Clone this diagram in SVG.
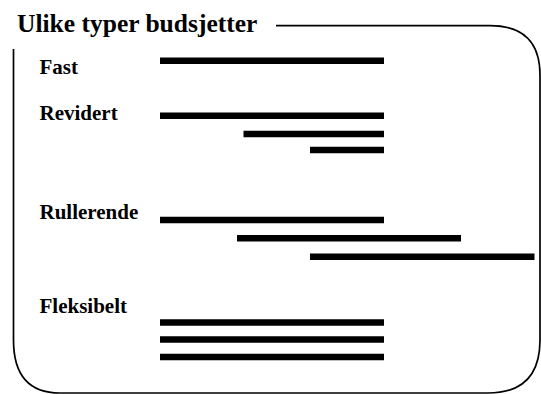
<svg xmlns="http://www.w3.org/2000/svg" width="541" height="394" viewBox="0 0 541 394">
  <style>
    .title { font-family: "Liberation Serif", "Times New Roman", serif; font-weight: bold; font-size: 25.5px; fill: #000; }
    .label { font-family: "Liberation Serif", "Times New Roman", serif; font-weight: bold; font-size: 21px; fill: #000; }
    .frame { fill: none; stroke: #000; stroke-width: 1.7; }
    .bar { stroke: #000; stroke-width: 6.5; stroke-linecap: butt; }
  </style>
  <rect width="541" height="394" fill="#fff"/>

  <!-- rounded frame opened at the top-left for the heading -->
  <g id="frame">
    <path class="frame" d="M13.5,49 V340 Q13.5,393 60,393 H488 Q540,393 540,340 V75 Q540,25.7 490,25.7 H276"/>
    <text class="title" x="17" y="32">Ulike typer budsjetter</text>
  </g>

  <g id="fast">
    <text class="label" x="39.5" y="74">Fast</text>
    <line class="bar" x1="160" y1="60.7" x2="384" y2="60.7"/>
  </g>

  <g id="revidert">
    <text class="label" x="39.5" y="120">Revidert</text>
    <line class="bar" x1="160" y1="115.7" x2="384" y2="115.7"/>
    <line class="bar" x1="243.5" y1="134" x2="384" y2="134"/>
    <line class="bar" x1="310" y1="150" x2="384" y2="150"/>
  </g>

  <g id="rullerende">
    <text class="label" x="39.5" y="219">Rullerende</text>
    <line class="bar" x1="160" y1="220" x2="384" y2="220"/>
    <line class="bar" x1="237" y1="238.3" x2="461" y2="238.3"/>
    <line class="bar" x1="310" y1="256.7" x2="534.5" y2="256.7"/>
  </g>

  <g id="fleksibelt">
    <text class="label" x="39.5" y="313">Fleksibelt</text>
    <line class="bar" x1="160" y1="322.5" x2="384" y2="322.5"/>
    <line class="bar" x1="160" y1="339.5" x2="384" y2="339.5"/>
    <line class="bar" x1="160" y1="357" x2="384" y2="357"/>
  </g>
</svg>
